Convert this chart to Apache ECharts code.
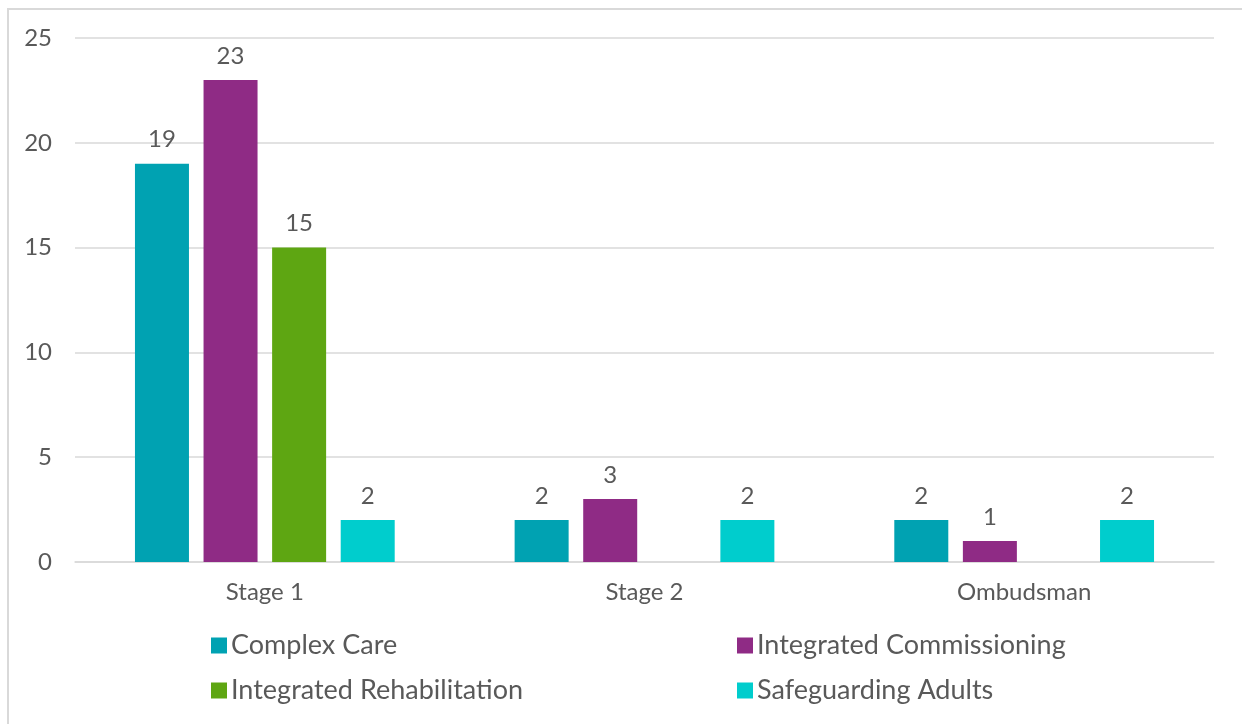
<!DOCTYPE html>
<html>
<head>
<meta charset="utf-8">
<script src="https://cdn.jsdelivr.net/npm/echarts@6/dist/echarts.min.js"></script>
<style>
  html, body { margin: 0; padding: 0; background: #fff; }
  #chart { width: 1242px; height: 724px; }
</style>
</head>
<body>
<div id="chart"></div>
<script>
// Complaints by stage and service area
const categories = ['Stage 1', 'Stage 2', 'Ombudsman'];
const seriesNames = ['Complex Care', 'Integrated Commissioning', 'Integrated Rehabilitation', 'Safeguarding Adults'];
const complexCare = [19, 2, 2];
const integratedCommissioning = [23, 3, 1];
const integratedRehabilitation = [15, null, null];
const safeguardingAdults = [2, 2, 2];
const yTicks = [0, 5, 10, 15, 20, 25];

const seriesValues = [complexCare, integratedCommissioning, integratedRehabilitation, safeguardingAdults];
const colors = ['#00A2B2', '#8F2B85', '#5EA612', '#00CDCD'];
const font = 'Lato, "Open Sans", sans-serif';
const textColor = '#595959';

const chart = echarts.init(document.getElementById('chart'));

const legendPos = [
  { left: 206, top: 627 },
  { left: 732, top: 627 },
  { left: 206, top: 672 },
  { left: 732, top: 672 }
];

chart.setOption({
  animation: false,
  graphic: [{
    type: 'rect',
    shape: { x: 8, y: 9, width: 1300, height: 800 },
    style: { fill: 'none', stroke: '#d9d9d9', lineWidth: 2 },
    silent: true
  }],
  grid: { left: 75, right: 28, top: 38, bottom: 162 },
  legend: seriesNames.map((n, i) => ({
    data: [n],
    left: legendPos[i].left,
    top: legendPos[i].top,
    icon: 'rect',
    itemWidth: 16,
    itemHeight: 16,
    itemGap: 5,
    textStyle: { fontFamily: font, fontSize: 27, color: textColor, padding: [0, 0, 0, -1] }
  })),
  xAxis: {
    type: 'category',
    data: categories,
    axisTick: { show: false },
    axisLine: { lineStyle: { color: '#d9d9d9', width: 1.5 } },
    axisLabel: { fontFamily: font, fontSize: 24, color: textColor, margin: 18 }
  },
  yAxis: {
    type: 'value',
    min: yTicks[0],
    max: yTicks[yTicks.length - 1],
    interval: yTicks[1] - yTicks[0],
    axisLine: { show: false },
    axisTick: { show: false },
    splitLine: { lineStyle: { color: '#d9d9d9', width: 1.5 } },
    axisLabel: { fontFamily: font, fontSize: 24, color: textColor, margin: 23 }
  },
  series: seriesNames.map((n, i) => ({
    name: n,
    type: 'bar',
    data: seriesValues[i],
    barWidth: 54,
    barGap: '27%',
    itemStyle: { color: colors[i] },
    label: {
      show: true,
      position: 'top',
      distance: 12,
      fontFamily: font,
      fontSize: 24,
      color: textColor
    }
  }))
});
</script>
</body>
</html>
